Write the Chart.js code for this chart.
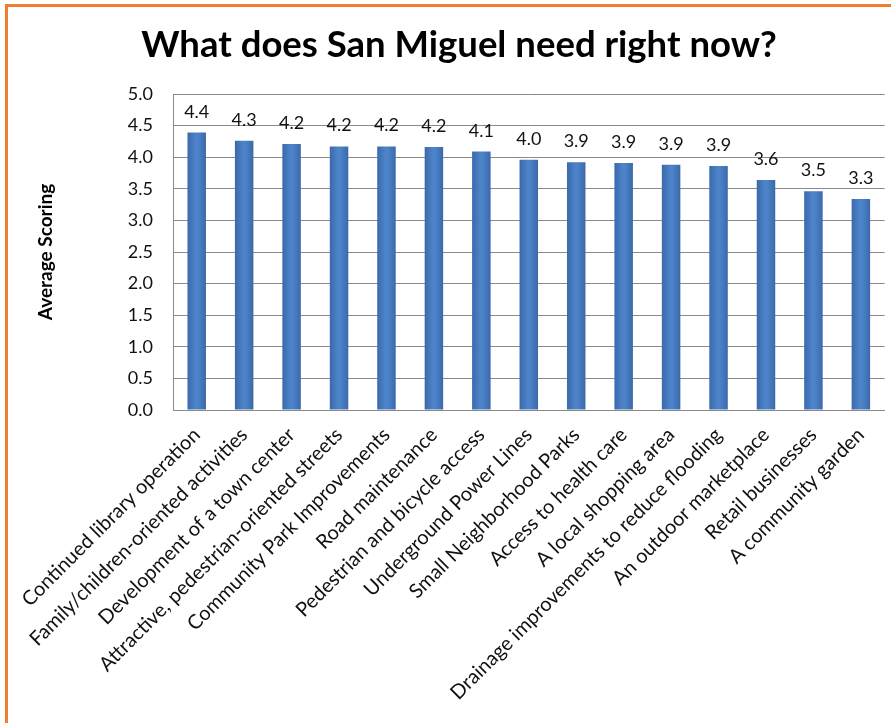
<!DOCTYPE html>
<html>
<head>
<meta charset="utf-8">
<title>What does San Miguel need right now?</title>
<script src="https://cdn.jsdelivr.net/npm/chart.js@4"></script>
<style>
  html, body { margin: 0; padding: 0; background: #fff; }
  canvas { display: block; }
</style>
</head>
<body>
<canvas id="chartKebutuhan" width="891" height="723"></canvas>
<script>
// Kategori survei
const kategori = [
  'Continued library operation',
  'Family/children-oriented activities',
  'Development of a town center',
  'Attractive, pedestrian-oriented streets',
  'Community Park Improvements',
  'Road maintenance',
  'Pedestrian and bicycle access',
  'Underground Power Lines',
  'Small Neighborhood Parks',
  'Access to health care',
  'A local shopping area',
  'Drainage improvements to reduce flooding',
  'An outdoor marketplace',
  'Retail businesses',
  'A community garden'
];

// Nilai rata-rata per kategori
const nilaiRataRata = [4.39, 4.26, 4.21, 4.17, 4.17, 4.16, 4.09, 3.96, 3.92, 3.91, 3.88, 3.86, 3.64, 3.46, 3.34];

// Label sumbu Y
const tickSumbuY = [0, 0.5, 1, 1.5, 2, 2.5, 3, 3.5, 4, 4.5, 5];

const judul = 'What does San Miguel need right now?';
const judulSumbuY = 'Average Scoring';

const FONT = 'Lato';
const warnaTeks = '#111';
const warnaGaris = '#8a8a8a';
const lebarBatang = 0.39;

// Latar putih + bingkai oranye + judul
const latarPlugin = {
  id: 'latar',
  beforeDraw(chart) {
    const c = chart.ctx;
    c.save();
    c.fillStyle = '#fff';
    c.fillRect(0, 0, chart.width, chart.height);
    c.strokeStyle = '#ef7f2f';
    c.lineWidth = 3;
    c.beginPath();
    c.moveTo(chart.width, 5.5);
    c.lineTo(6.5, 5.5);
    c.lineTo(6.5, chart.height);
    c.stroke();
    c.fillStyle = '#000';
    c.font = `bold 36.5px ${FONT}`;
    c.textAlign = 'center';
    c.textBaseline = 'middle';
    c.fillText(judul, 459, 45);
    c.restore();
  }
};

// Label nilai di atas batang
const labelNilaiPlugin = {
  id: 'labelNilai',
  afterDatasetsDraw(chart) {
    const c = chart.ctx;
    const meta = chart.getDatasetMeta(0);
    c.save();
    c.fillStyle = warnaTeks;
    c.font = `18px ${FONT}`;
    c.textAlign = 'center';
    c.textBaseline = 'alphabetic';
    meta.data.forEach((bar, i) => {
      c.fillText(nilaiRataRata[i].toFixed(1), bar.x, bar.y - 15);
    });
    c.restore();
  }
};

// Gradasi horizontal ala Excel untuk tiap batang
function warnaBatang(context) {
  const chart = context.chart;
  const sx = chart.scales.x;
  if (!sx || context.dataIndex === undefined) return '#4a7ebf';
  const x = sx.getPixelForValue(context.dataIndex);
  const w = (sx.width / kategori.length) * lebarBatang / 2;
  if (!isFinite(x) || !isFinite(w) || w <= 0) return '#4a7ebf';
  const g = chart.ctx.createLinearGradient(x - w, 0, x + w, 0);
  g.addColorStop(0, '#3b69ab');
  g.addColorStop(0.45, '#4d84c9');
  g.addColorStop(0.55, '#4d84c9');
  g.addColorStop(1, '#3b69ab');
  return g;
}

const ctx = document.getElementById('chartKebutuhan').getContext('2d');

const chart = new Chart(ctx, {
  type: 'bar',
  data: {
    labels: kategori,
    datasets: [{
      label: judulSumbuY,
      data: nilaiRataRata,
      backgroundColor: warnaBatang,
      borderWidth: 0,
      barPercentage: lebarBatang,
      categoryPercentage: 1
    }]
  },
  options: {
    responsive: false,
    animation: false,
    devicePixelRatio: 1,
    layout: {
      padding: { top: 94, left: 0, right: 5, bottom: 0 }
    },
    plugins: {
      legend: { display: false },
      title: { display: false },
      tooltip: { enabled: false }
    },
    scales: {
      x: {
        grid: { display: false, drawTicks: false },
        border: { display: true, color: warnaGaris, width: 1 },
        ticks: {
          color: warnaTeks,
          font: { family: FONT, size: 20 },
          minRotation: 45,
          maxRotation: 45,
          autoSkip: false,
          padding: 13
        },
        afterFit(scale) {
          scale.height = 723 - 410;
        }
      },
      y: {
        min: 0,
        max: 5,
        afterBuildTicks(scale) {
          scale.ticks = tickSumbuY.map(v => ({ value: v }));
        },
        grid: { color: warnaGaris, lineWidth: 1, drawTicks: false },
        border: { display: true, color: warnaGaris, width: 1 },
        ticks: {
          color: warnaTeks,
          font: { family: FONT, size: 18 },
          padding: 20,
          callback: value => Number(value).toFixed(1)
        },
        title: {
          display: true,
          text: judulSumbuY,
          color: '#000',
          font: { family: FONT, size: 19, weight: 'bold' },
          padding: { top: 34, bottom: 0 }
        },
        afterFit(scale) {
          scale.width = 173;
        }
      }
    }
  },
  plugins: [latarPlugin, labelNilaiPlugin]
});
</script>
</body>
</html>
